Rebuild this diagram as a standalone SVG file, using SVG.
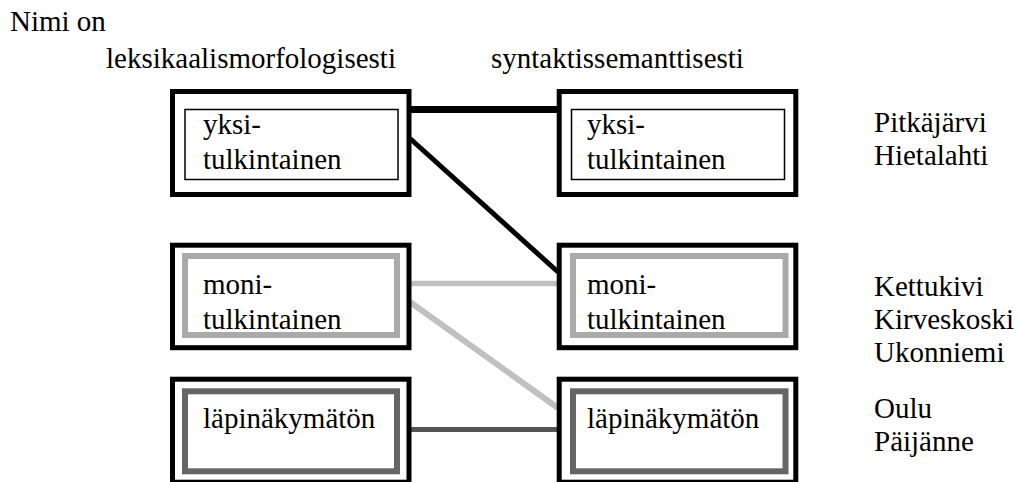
<svg xmlns="http://www.w3.org/2000/svg" width="1018" height="482" viewBox="0 0 1018 482">
  <style>
    text { font-family: 'Liberation Serif', 'Times New Roman', serif; font-size: 29px; fill: #000; }
    .outer { fill: #fff; stroke: #000; stroke-width: 5; }
    .thin { fill: none; stroke: #000; stroke-width: 1.5; }
    .light { fill: none; stroke: #aaaaaa; stroke-width: 6; }
    .dark { fill: none; stroke: #666666; stroke-width: 6; }
    .link { fill: none; stroke-linecap: butt; }
  </style>
  <rect width="1018" height="482" fill="#fff"/>

  <!-- headings -->
  <g id="headings">
    <text x="10" y="31">Nimi on</text>
    <text x="106" y="68">leksikaalismorfologisesti</text>
    <text x="491" y="68">syntaktissemanttisesti</text>
  </g>

  <!-- connectors between the two columns -->
  <g id="connectors" class="link">
    <line x1="410" y1="109.5" x2="558" y2="109.5" stroke="#000" stroke-width="7"/>
    <line x1="410" y1="138.5" x2="558" y2="272" stroke="#000" stroke-width="5"/>
    <line x1="409" y1="283.5" x2="559" y2="283.5" stroke="#c0c0c0" stroke-width="5.5"/>
    <line x1="410" y1="302" x2="558" y2="408" stroke="#c0c0c0" stroke-width="6"/>
    <line x1="410" y1="429.5" x2="558" y2="429.5" stroke="#555555" stroke-width="5"/>
  </g>

  <!-- left column -->
  <g id="lex-yksi">
    <rect class="outer" x="172.5" y="91.5" width="236.5" height="103"/>
    <rect class="thin" x="185" y="109.5" width="213" height="70"/>
    <text x="203" y="134">yksi-</text>
    <text x="203" y="169">tulkintainen</text>
  </g>
  <g id="lex-moni">
    <rect class="outer" x="172.5" y="245.2" width="236.5" height="102.5"/>
    <rect class="light" x="185" y="256" width="212" height="79"/>
    <text x="203" y="294">moni-</text>
    <text x="203" y="329">tulkintainen</text>
  </g>
  <g id="lex-lapi">
    <rect class="outer" x="172.5" y="379.2" width="236.5" height="103"/>
    <rect class="dark" x="185" y="391.3" width="212" height="80"/>
    <text x="203" y="428">läpinäkymätön</text>
  </g>

  <!-- right column -->
  <g id="syn-yksi">
    <rect class="outer" x="559.2" y="91.5" width="236.6" height="103"/>
    <rect class="thin" x="571.5" y="109.5" width="213" height="70"/>
    <text x="587" y="134">yksi-</text>
    <text x="587" y="169">tulkintainen</text>
  </g>
  <g id="syn-moni">
    <rect class="outer" x="559.2" y="245.2" width="236.6" height="102.5"/>
    <rect class="light" x="573" y="256" width="212.5" height="79"/>
    <text x="587" y="294">moni-</text>
    <text x="587" y="329">tulkintainen</text>
  </g>
  <g id="syn-lapi">
    <rect class="outer" x="559.2" y="379.2" width="236.6" height="103"/>
    <rect class="dark" x="573" y="391.3" width="212.5" height="80"/>
    <text x="587" y="428">läpinäkymätön</text>
  </g>

  <!-- example names -->
  <g id="examples">
    <text x="874" y="132">Pitkäjärvi</text>
    <text x="874" y="165">Hietalahti</text>
    <text x="874" y="296">Kettukivi</text>
    <text x="874" y="329">Kirveskoski</text>
    <text x="874" y="362">Ukonniemi</text>
    <text x="874" y="418">Oulu</text>
    <text x="874" y="451">Päijänne</text>
  </g>
</svg>
